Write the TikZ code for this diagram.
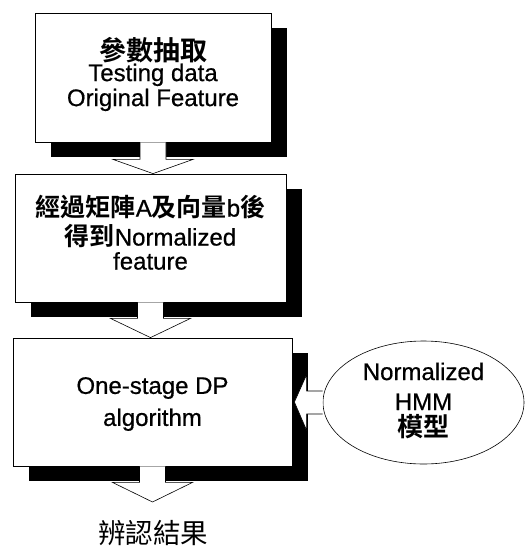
\documentclass[tikz,border=0pt]{standalone}
\usepackage{fontspec}
\setmainfont{Liberation Sans}
\newfontfamily\lat{Liberation Sans}[FakeBold=0.6]
\newfontfamily\cjk{Noto Sans CJK TC}
\newfontfamily\cjkb{Noto Sans CJK TC Bold}
\usetikzlibrary{shadows,shapes.geometric,calc}
\newcommand\tightlines{\lineskiplimit=-40pt\lineskip=0pt}
\newcommand\hz[1]{{\cjkb\fontsize{25}{27}\selectfont #1}}
\begin{document}
\begin{tikzpicture}[x=1pt,y=-1pt,
  stepbox/.style={draw, fill=white, line width=0.8pt, inner sep=0pt,
    drop shadow={shadow xshift=16pt, shadow yshift=-15pt, fill=black, opacity=1}},
  modelnode/.style={ellipse, draw, fill=white, line width=0.6pt, inner sep=0pt},
  boxtext/.style={align=center, inner sep=0pt, font=\lat\fontsize{24}{25}\selectfont\tightlines},
  blockarrow/.style={draw, fill=white, line width=0.6pt, line join=miter}]
\useasboundingbox (0,0) rectangle (525,546);

\node[stepbox, minimum width=236pt, minimum height=129pt] (b1) at (153,77.5) {};
\node[boxtext] (t1) at ($(b1.center)+(0,-3.5)$)
  {{\cjkb\fontsize{27}{25}\selectfont 參數抽取}\\[-4pt]Testing data\\Original Feature};
\node[stepbox, minimum width=271pt, minimum height=128pt] (b2) at (150.5,238) {};
\node[boxtext, font=\lat\fontsize{24}{27}\selectfont\tightlines] (t2) at ($(b2.center)+(0,-5.5)$)
  {\hz{經過矩陣}A\hz{及向量}b\hz{後}\\[2pt]\hz{得到}Normalized\\[-3pt]feature};
\node[stepbox, minimum width=279pt, minimum height=128pt] (b3) at (152.5,402) {};
\node[boxtext, font=\lat\fontsize{24}{32}\selectfont\tightlines] (t3) at ($(b3.center)+(0,2)$)
  {One-stage DP\\algorithm};
\node[modelnode, minimum width=201pt, minimum height=123pt] (hmm) at (423.5,402.5) {};
\node[boxtext, font=\lat\fontsize{24}{27}\selectfont\tightlines] (t4) at ($(hmm.center)+(0,-2)$)
  {Normalized\\[3pt]HMM\\[-1pt]{\cjkb\fontsize{26}{27}\selectfont 模型}};
\node[font=\cjk\fontsize{27.5}{30}\selectfont, inner sep=0pt] (res) at (153,533) {辨認結果};
\coordinate (tip3) at (152.5,502);

\draw[blockarrow] let \p1=(b1.south), \p2=(b2.north) in
  (\x1-13pt,\y1) -- (\x1-13pt,\y1-17pt) -- (\x1-40pt,\y1-17pt) -- (\x1,\y2)
  -- (\x1+40pt,\y1-17pt) -- (\x1+13pt,\y1-17pt) -- (\x1+13pt,\y1);
\draw[blockarrow] let \p1=(b2.south), \p2=(b3.north) in
  (\x1-13pt,\y1) -- (\x1-13pt,\y1-16pt) -- (\x1-40pt,\y1-16pt) -- (\x1,\y2)
  -- (\x1+40pt,\y1-16pt) -- (\x1+13pt,\y1-16pt) -- (\x1+13pt,\y1);
\draw[blockarrow] let \p1=(b3.south), \p2=(tip3) in
  (\x1-13pt,\y1) -- (\x1-13pt,\y1-16pt) -- (\x1-40pt,\y1-16pt) -- (\x1,\y2)
  -- (\x1+40pt,\y1-16pt) -- (\x1+13pt,\y1-16pt) -- (\x1+13pt,\y1);
\draw[blockarrow] let \p1=(hmm.west), \p2=(b3.east) in
  (\x1,\y1+11.5pt) -- (\x1-16pt,\y1+11.5pt) -- (\x1-16pt,\y1+28pt) -- (\x2+2pt,\y2)
  -- (\x1-16pt,\y1-28pt) -- (\x1-16pt,\y1-11.5pt) -- (\x1,\y1-11.5pt);
\end{tikzpicture}
\end{document}
